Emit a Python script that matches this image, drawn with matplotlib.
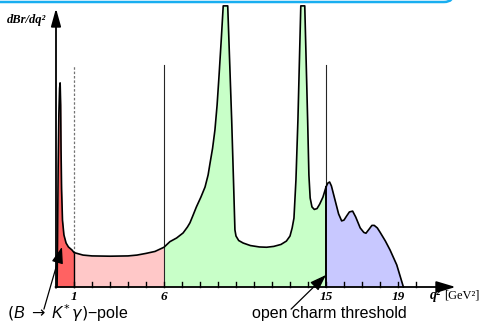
import matplotlib
matplotlib.use("Agg")
import matplotlib.pyplot as plt
from matplotlib.patches import FancyBboxPatch
from matplotlib.transforms import IdentityTransform
import numpy as np

plt.rcParams["mathtext.fontset"] = "custom"
plt.rcParams["mathtext.rm"] = "DejaVu Sans"
plt.rcParams["mathtext.it"] = "Liberation Sans:italic"
plt.rcParams["mathtext.sf"] = "DejaVu Sans:italic"

# q^2 [GeV^2] and dBr/dq^2 (arbitrary units) along the spectrum
q2 = np.array([0.06, 0.09, 0.12, 0.16, 0.20, 0.23, 0.26, 0.28, 0.31, 0.36,
               0.44, 0.56, 0.69, 0.89, 1.00, 1.50, 2.00, 3.00, 4.00, 4.50,
               5.00, 5.50, 6.00, 6.33, 6.70, 7.06, 7.30, 7.44, 7.60, 7.80,
               8.05, 8.28, 8.45, 8.56, 8.70, 8.83, 8.95, 9.06, 9.18, 9.29,
               9.54, 9.76, 9.86, 9.94, 10.00, 10.15, 10.40, 10.80, 11.30, 11.70,
               12.10, 12.50, 12.80, 13.00, 13.12, 13.22, 13.33, 13.44, 13.60, 13.82,
               13.98, 14.05, 14.12, 14.22, 14.35, 14.50, 14.65, 14.83, 15.00, 15.10,
               15.20, 15.30, 15.50, 15.70, 15.87, 16.00, 16.15, 16.30, 16.48, 16.65,
               16.90, 17.10, 17.22, 17.40, 17.55, 17.68, 17.85, 18.00, 18.30, 18.56,
               18.93, 19.30])
dbr = np.array([0.00, 2.00, 4.30, 6.20, 7.10, 7.29, 6.50, 4.90, 3.50, 2.39,
                1.86, 1.57, 1.43, 1.32, 1.23, 1.14, 1.11, 1.10, 1.11, 1.14,
                1.20, 1.27, 1.42, 1.62, 1.75, 1.93, 2.14, 2.29, 2.54, 2.86,
                3.21, 3.57, 4.00, 4.43, 4.96, 5.61, 6.50, 7.57, 8.82, 10.04,
                10.04, 5.96, 3.82, 2.04, 1.82, 1.66, 1.57, 1.48, 1.43, 1.42,
                1.45, 1.52, 1.64, 1.82, 2.11, 2.46, 3.82, 5.96, 10.04, 10.04,
                5.96, 4.00, 3.18, 2.86, 2.77, 2.80, 2.96, 3.21, 3.57, 3.71,
                3.75, 3.61, 3.11, 2.61, 2.36, 2.39, 2.54, 2.68, 2.71, 2.50,
                2.11, 1.95, 1.92, 2.07, 2.20, 2.20, 2.11, 1.96, 1.64, 1.32,
                0.79, 0.00])

regions = [(0, 1, "#ff6262"), (1, 6, "#ffc8c8"), (6, 15, "#c8ffc8"), (15, 19.3, "#c8c8ff")]
tick_values = np.arange(1, 21)
labelled_ticks = ["1", "6", "15", "19"]
cut_top = 7.93

fig = plt.figure(figsize=(4.79, 3.22), dpi=100)
ax = fig.add_axes([0, 0, 1, 1])
ax.set_xlim(-56 / 18, 423 / 18)
ax.set_ylim(-35 / 28, 287 / 28)
ax.axis("off")

for lo, hi, c in regions:
    m = (q2 >= lo) & (q2 <= hi)
    ax.fill_between(q2[m], 0, dbr[m], color=c, lw=0)

# region boundaries
y1 = np.interp(1, q2, dbr)
ax.plot([1, 1], [0, y1], color="k", lw=1.0)
ax.plot([1, 1], [y1, cut_top], color="0.45", lw=0.9, ls=(0, (2, 1.5)))
ax.plot([6, 6], [0, cut_top], color="0.15", lw=0.8)
y15 = np.interp(15, q2, dbr)
ax.plot([15, 15], [0, y15], color="k", lw=1.4)
ax.plot([15, 15], [y15, cut_top], color="0.15", lw=0.8)

ax.plot(q2, dbr, color="k", lw=1.2, solid_joinstyle="round")

# axes with arrows
for k in tick_values:
    ax.plot([k, k], [0, 5 / 28], color="k", lw=1.0)
ax.annotate("", xy=(22.2, 0), xytext=(-0.03, 0),
            arrowprops=dict(arrowstyle="-|>,head_length=0.9,head_width=0.27",
                            lw=1.3, color="k", mutation_scale=13, shrinkA=0, shrinkB=0))
ax.annotate("", xy=(0, 9.95), xytext=(0, -0.03),
            arrowprops=dict(arrowstyle="-|>,head_length=0.9,head_width=0.25",
                            lw=1.3, color="k", mutation_scale=12, shrinkA=0, shrinkB=0))

serif_bi = dict(family="Liberation Serif", weight="bold", style="italic")
for lab in labelled_ticks:
    ax.text(float(lab), -0.36, lab, ha="center", va="center", fontsize=9.5, **serif_bi)

ax.text(-2.72, 9.54, "dBr/dq²", ha="left", va="center", fontsize=9, **serif_bi)
ax.text(20.75, -0.32, "q²", ha="left", va="center", fontsize=10, **serif_bi)
ax.text(21.55, -0.32, "[GeV²]", ha="left", va="center", fontsize=9,
        family="Liberation Serif")

# annotations
ax.annotate("", xy=(0.33, 1.43), xytext=(-0.67, -0.79),
            arrowprops=dict(arrowstyle="-|>,head_length=1.0,head_width=0.35",
                            lw=0.9, color="k", mutation_scale=10, shrinkA=0, shrinkB=0))
ax.text(-2.74, -1.143, r"$(B\ \rightarrow\ K^{*}\,\mathsf{\gamma})$" + "\u2212pole", ha="left",
        va="baseline", fontsize=11.5, family="Liberation Sans")
ax.annotate("", xy=(15.0, 0.43), xytext=(13.06, -0.79),
            arrowprops=dict(arrowstyle="-|>,head_length=1.0,head_width=0.35",
                            lw=0.9, color="k", mutation_scale=10, shrinkA=0, shrinkB=0))
ax.text(10.91, -1.107, "open charm threshold", ha="left", va="baseline",
        fontsize=11.5, family="Liberation Sans")

# blue frame edge running along the top
frame = FancyBboxPatch((-20, 320), 474, 40, boxstyle="round,pad=0,rounding_size=10",
                       transform=IdentityTransform(), fc="none", ec="#18aef0", lw=1.8)
fig.add_artist(frame)

fig.savefig("out.png", dpi=100)
